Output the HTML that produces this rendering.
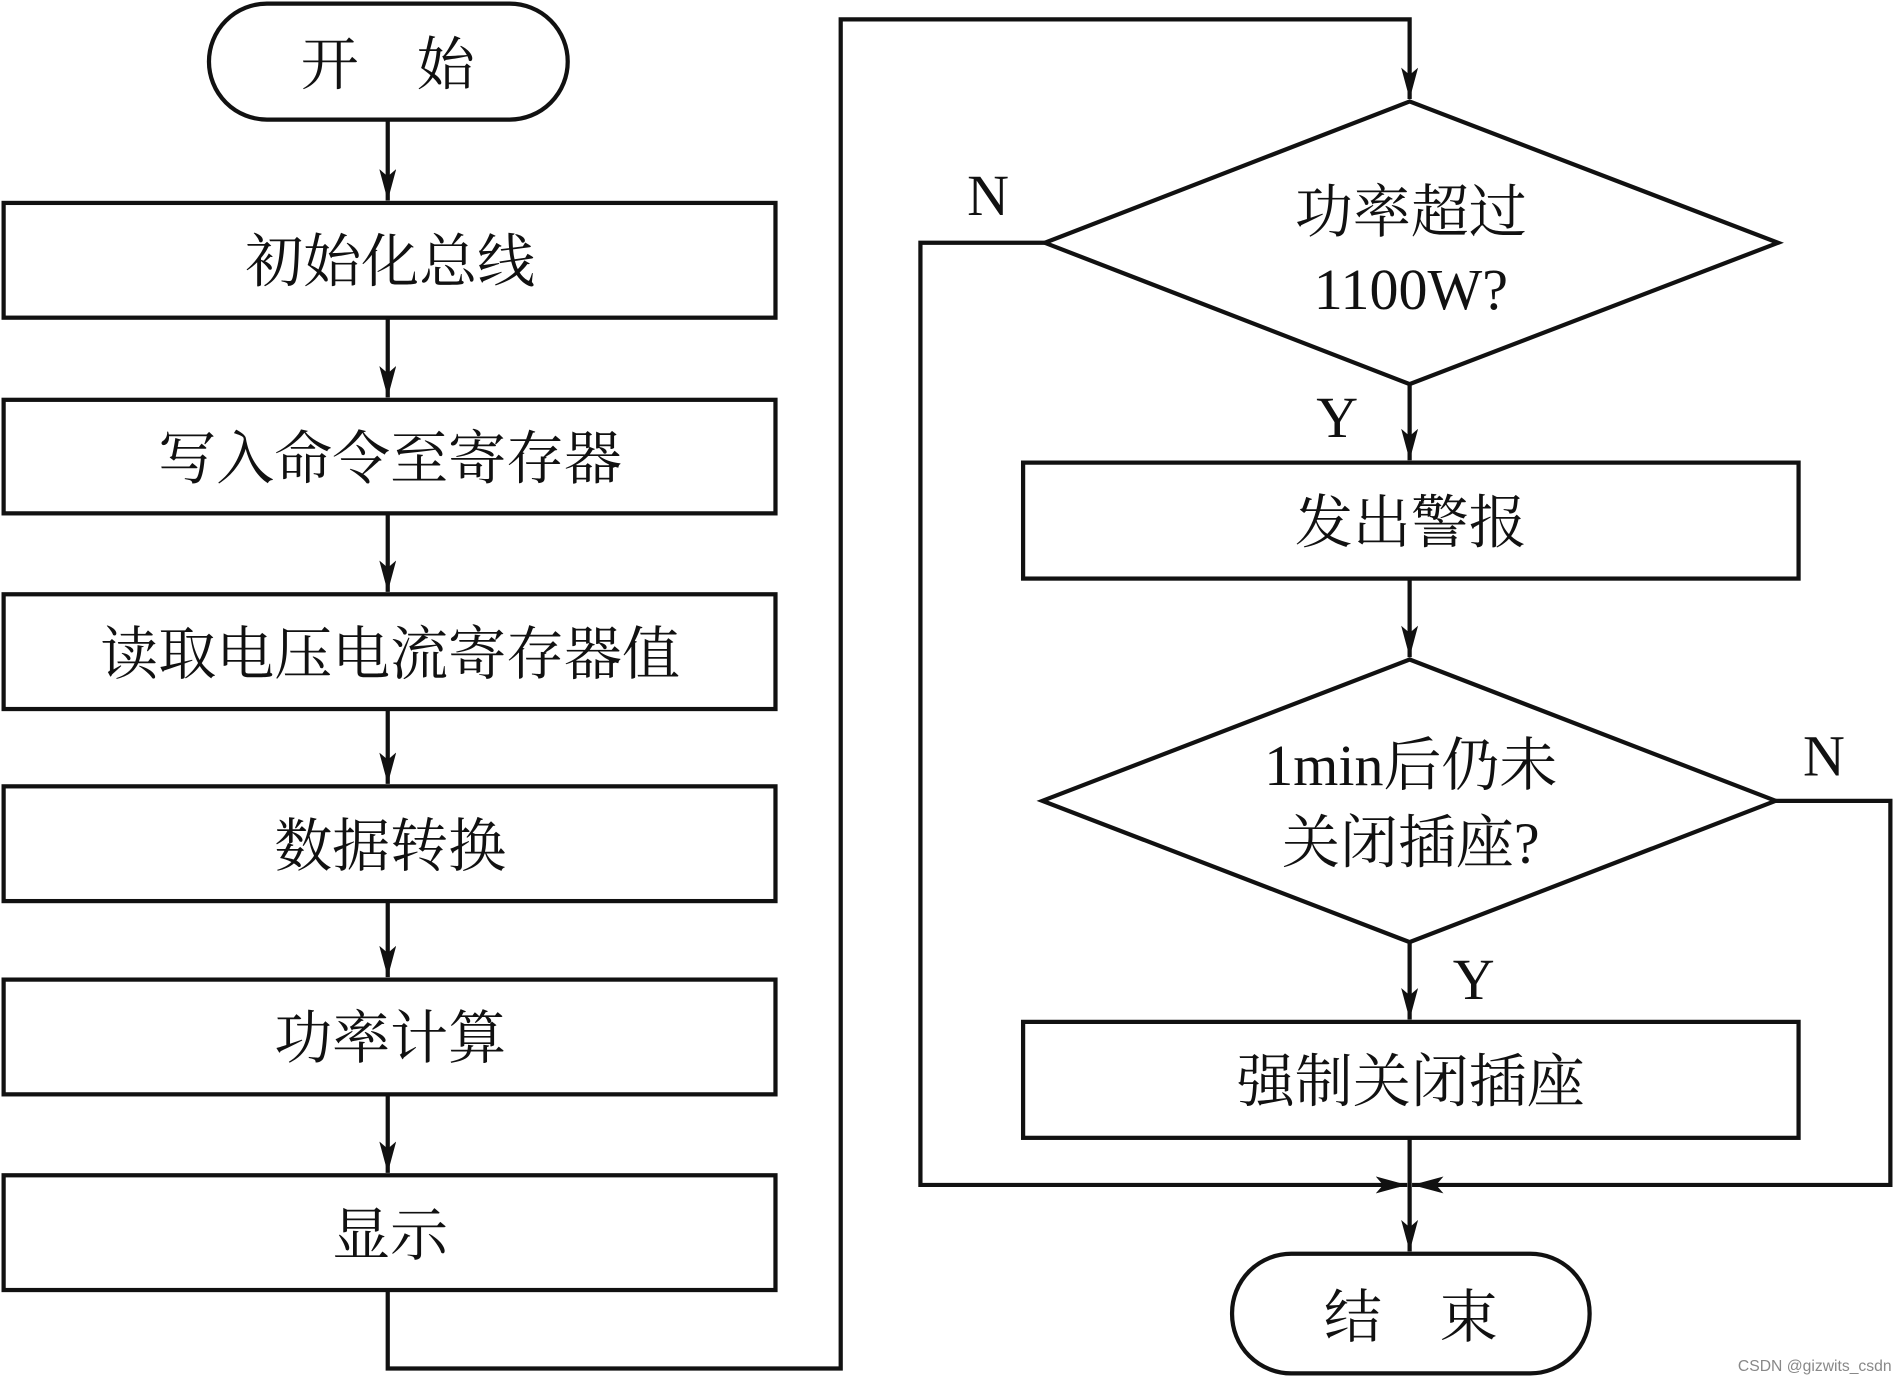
<!DOCTYPE html>
<html><head><meta charset="utf-8"><style>
html,body{margin:0;padding:0;background:#fff;}
svg{display:block;}
text{font-family:"Liberation Serif","Noto Serif CJK SC",serif;fill:#111;}
</style></head><body>
<svg width="1894" height="1377" viewBox="0 0 1568 1140" preserveAspectRatio="none" xmlns="http://www.w3.org/2000/svg">
<defs>
<marker id="a" markerWidth="26" markerHeight="14" refX="26" refY="7" orient="auto" markerUnits="userSpaceOnUse">
<path d="M0,0 L26,7 L0,14 L6,7 Z" fill="#111"/>
</marker>
</defs>
<g fill="none" stroke="#111" stroke-width="3.5">
<rect x="173" y="3" width="297" height="96" rx="48"/>
<rect x="3" y="168" width="639" height="95"/>
<rect x="3" y="331" width="639" height="94"/>
<rect x="3" y="492" width="639" height="95"/>
<rect x="3" y="651" width="639" height="95"/>
<rect x="3" y="811" width="639" height="95"/>
<rect x="3" y="973" width="639" height="95"/>
<line x1="321" y1="99" x2="321" y2="166" marker-end="url(#a)"/>
<line x1="321" y1="263" x2="321" y2="329" marker-end="url(#a)"/>
<line x1="321" y1="425" x2="321" y2="490" marker-end="url(#a)"/>
<line x1="321" y1="587" x2="321" y2="649" marker-end="url(#a)"/>
<line x1="321" y1="746" x2="321" y2="809" marker-end="url(#a)"/>
<line x1="321" y1="906" x2="321" y2="971" marker-end="url(#a)"/>
<polyline points="321,1068 321,1133 696,1133 696,16 1167,16 1167,82" marker-end="url(#a)"/>
<polygon points="1167,84 1472,201 1167,318 865,201"/>
<polyline points="865,201 762,201 762,981 1165,981" marker-end="url(#a)"/>
<line x1="1167" y1="318" x2="1167" y2="381" marker-end="url(#a)"/>
<rect x="847" y="383" width="642" height="96"/>
<line x1="1167" y1="479" x2="1167" y2="544" marker-end="url(#a)"/>
<polygon points="1167,546 1470,663 1167,780 863,663"/>
<polyline points="1470,663 1565,663 1565,981 1169,981" marker-end="url(#a)"/>
<line x1="1167" y1="780" x2="1167" y2="844" marker-end="url(#a)"/>
<rect x="847" y="846" width="642" height="96"/>
<line x1="1167" y1="942" x2="1167" y2="1036" marker-end="url(#a)"/>
<rect x="1020" y="1038" width="296" height="99" rx="49"/>
</g>
<g font-size="48" text-anchor="middle">
<text x="321" y="70">开　始</text>
<text x="323" y="233">初始化总线</text>
<text x="323" y="396">写入命令至寄存器</text>
<text x="323" y="558">读取电压电流寄存器值</text>
<text x="323" y="717">数据转换</text>
<text x="323" y="876">功率计算</text>
<text x="323" y="1039">显示</text>
<text x="1168" y="192">功率超过</text>
<text x="1168" y="256">1100W?</text>
<text x="1168" y="449">发出警报</text>
<text x="1168" y="650">1min后仍未</text>
<text x="1168" y="714">关闭插座?</text>
<text x="1168" y="912">强制关闭插座</text>
<text x="1168" y="1107">结　束</text>
<text x="818" y="178">N</text>
<text x="1107" y="362">Y</text>
<text x="1510" y="642">N</text>
<text x="1220" y="827">Y</text>
</g>
<text x="1566" y="1135" font-size="13" text-anchor="end" style="fill:#888;font-family:'Liberation Sans',sans-serif">CSDN @gizwits_csdn</text>
</svg>
</body></html>
